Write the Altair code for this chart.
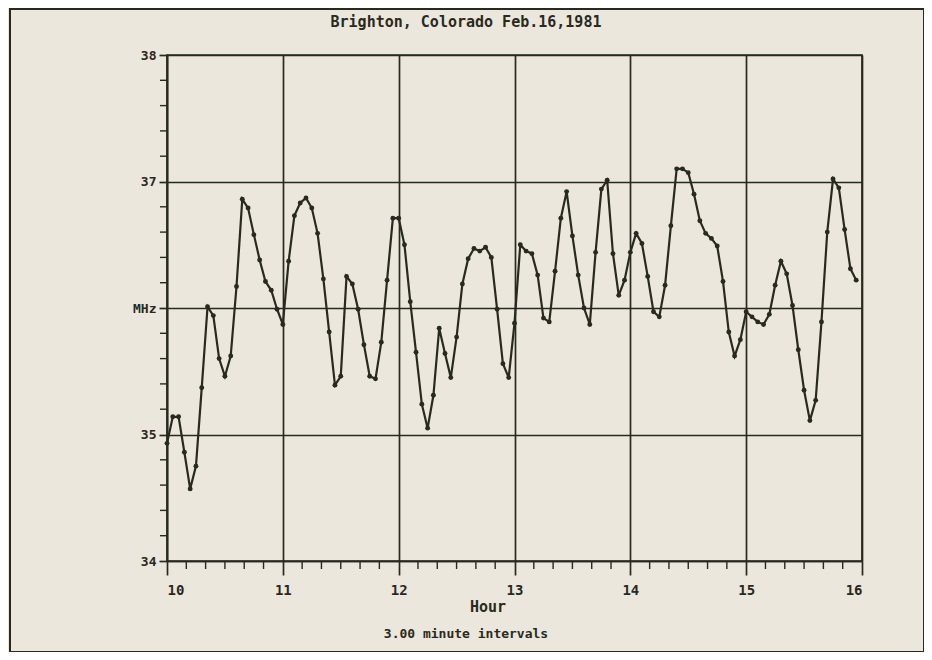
import altair as alt
import pandas as pd

# ---------------- data ----------------
start_hour = 10.0
step_hours = 0.05  # 3.00 minute intervals
mhz = [
    34.93, 35.14, 35.14, 34.86, 34.57, 34.75, 35.37, 36.01, 35.94, 35.60,
    35.46, 35.62, 36.17, 36.86, 36.79, 36.58, 36.38, 36.21, 36.14, 35.99,
    35.87, 36.37, 36.73, 36.83, 36.87, 36.79, 36.59, 36.23, 35.81, 35.39,
    35.46, 36.25, 36.19, 35.99, 35.71, 35.46, 35.44, 35.73, 36.22, 36.71,
    36.71, 36.50, 36.05, 35.65, 35.24, 35.05, 35.31, 35.84, 35.64, 35.45,
    35.77, 36.19, 36.39, 36.47, 36.45, 36.48, 36.40, 35.99, 35.56, 35.45,
    35.88, 36.50, 36.45, 36.43, 36.26, 35.92, 35.89, 36.29, 36.71, 36.92,
    36.57, 36.26, 36.00, 35.87, 36.44, 36.94, 37.01, 36.43, 36.10, 36.22,
    36.44, 36.59, 36.51, 36.25, 35.97, 35.93, 36.18, 36.65, 37.10, 37.10,
    37.07, 36.90, 36.69, 36.59, 36.55, 36.49, 36.21, 35.81, 35.62, 35.75,
    35.97, 35.93, 35.89, 35.87, 35.95, 36.18, 36.37, 36.27, 36.02, 35.67,
    35.35, 35.11, 35.27, 35.89, 36.60, 37.02, 36.95, 36.62, 36.31, 36.22,
]
hour = [start_hour + i * step_hours for i in range(len(mhz))]

x_major = [10, 11, 12, 13, 14, 15, 16]
y_major = [34, 35, 36, 37, 38]
x_minor = [10 + k / 6 for k in range(37) if k % 6]
y_minor = [34 + k * 0.2 for k in range(21) if k % 5]

title_text = "Brighton, Colorado Feb.16,1981"
x_title = "Hour"
caption = "3.00 minute intervals"

# ---------------- styling ----------------
INK = "#2a2920"
PAPER = "#ebe7dc"
FONT = "DejaVu Sans Mono"
W, H = 695, 506

df = pd.DataFrame({"hour": hour, "mhz": mhz})
xscale = alt.Scale(domain=[10, 16], nice=False, zero=False)
yscale = alt.Scale(domain=[34, 38], nice=False, zero=False)

xaxis = alt.Axis(values=x_major, format="d", grid=True, gridColor=INK,
                 gridWidth=1.7, gridOpacity=1, tickSize=14, tickColor=INK,
                 tickWidth=1.7, domainColor=INK, domainWidth=1.7,
                 labelFont=FONT, labelFontSize=14, labelFontWeight="bold",
                 labelColor=INK, labelPadding=8, title=None)
yaxis = alt.Axis(values=y_major, format="d", grid=True, gridColor=INK,
                 gridWidth=1.7, gridOpacity=1, tickSize=8, tickColor=INK,
                 tickWidth=1.7, domainColor=INK, domainWidth=1.7,
                 labelFont=FONT, labelFontSize=13, labelFontWeight="bold",
                 labelColor=INK, labelPadding=3, title=None,
                 labelExpr="datum.value == 36 ? 'MHz' : datum.label")

line = alt.Chart(df).mark_line(color=INK, strokeWidth=2.2).encode(
    x=alt.X("hour:Q", scale=xscale, axis=xaxis, title=None),
    y=alt.Y("mhz:Q", scale=yscale, axis=yaxis, title=None),
)

pts = alt.Chart(df).mark_circle(color=INK, size=24, opacity=1).encode(
    x=alt.X("hour:Q", scale=xscale, axis=xaxis, title=None),
    y=alt.Y("mhz:Q", scale=yscale, axis=yaxis, title=None),
)

minor_x = alt.Chart(pd.DataFrame({"hour": x_minor})).mark_rule(color=INK, strokeWidth=1.4).encode(
    x=alt.X("hour:Q", scale=xscale, axis=xaxis, title=None),
    y=alt.value(H), y2=alt.value(H + 8),
)
minor_y = alt.Chart(pd.DataFrame({"mhz": y_minor})).mark_rule(color=INK, strokeWidth=1.4).encode(
    y=alt.Y("mhz:Q", scale=yscale, axis=yaxis, title=None),
    x=alt.value(-7), x2=alt.value(0),
)


def label(text, px, py, size, weight="bold"):
    return alt.Chart(pd.DataFrame({"t": [text]})).mark_text(
        font=FONT, fontSize=size, fontWeight=weight, color=INK,
        align="center", baseline="middle",
    ).encode(text="t:N", x=alt.value(px - 167), y=alt.value(py - 55))


frame = alt.Chart(pd.DataFrame({"a": [0]})).mark_rect(
    filled=False, stroke=INK, strokeWidth=2
).encode(x=alt.value(-157), x2=alt.value(757), y=alt.value(-46), y2=alt.value(597))

chart = alt.layer(
    line, pts, minor_x, minor_y, frame,
    label(title_text, 466, 22, 15),
    label(x_title, 488, 607, 15),
    label(caption, 466, 634, 13),
).properties(
    width=W, height=H,
    autosize=alt.AutoSizeParams(type="none"),
    padding={"left": 159, "top": 47, "right": 62, "bottom": 91},
    background=PAPER,
).configure_view(stroke=INK, strokeWidth=1.7)

chart.save("out.html", embed_options={"renderer": "svg", "actions": False})
